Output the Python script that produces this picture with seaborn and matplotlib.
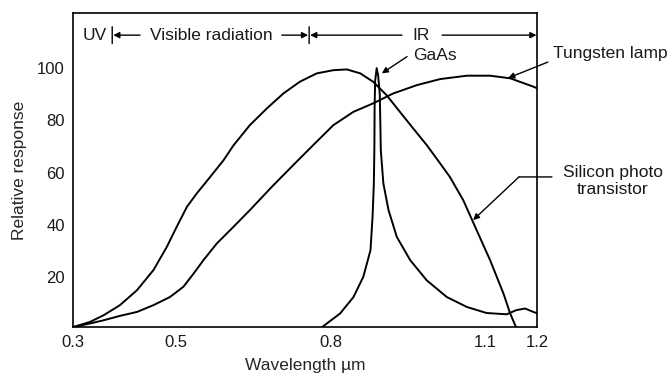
import matplotlib
matplotlib.use('Agg')
import matplotlib.pyplot as plt
import seaborn as sns
import pandas as pd

# Relative response vs wavelength (um)
silicon_wl = [0.300, 0.333, 0.359, 0.391, 0.424, 0.456, 0.482, 0.501, 0.521, 0.540,
              0.566, 0.592, 0.611, 0.643, 0.676, 0.708, 0.740, 0.773, 0.805, 0.831,
              0.857, 0.882, 0.908, 0.934, 0.960, 0.986, 1.012, 1.031, 1.057, 1.083,
              1.109, 1.135, 1.148, 1.159]
silicon_resp = [1.0, 3.0, 5.5, 9.4, 15.1, 22.8, 31.7, 39.3, 47.0, 52.1,
                58.4, 64.8, 70.4, 78.2, 84.6, 90.3, 94.8, 98.0, 99.2, 99.5,
                98.0, 94.8, 89.7, 83.3, 76.9, 70.6, 63.6, 58.4, 49.5, 38.0,
                26.6, 13.8, 6.2, 1.1]

tungsten_wl = [0.300, 0.333, 0.359, 0.391, 0.424, 0.456, 0.488, 0.514, 0.534, 0.553,
               0.579, 0.611, 0.643, 0.685, 0.727, 0.766, 0.805, 0.844, 0.882, 0.921,
               0.967, 1.012, 1.064, 1.109, 1.148, 1.193, 1.200]
tungsten_resp = [1.0, 2.4, 3.6, 5.3, 6.8, 9.4, 12.5, 16.4, 21.5, 26.6,
                 33.0, 39.3, 45.7, 54.5, 62.9, 70.6, 78.2, 83.3, 86.5, 90.3,
                 93.5, 95.8, 97.1, 97.1, 96.1, 92.9, 92.3]

gaas_wl = [0.783, 0.818, 0.844, 0.863, 0.877, 0.881, 0.8835, 0.8845, 0.885, 0.886,
           0.889, 0.892, 0.895, 0.896, 0.897, 0.902, 0.912, 0.928, 0.954, 0.986,
           1.025, 1.064, 1.102, 1.141, 1.160, 1.177, 1.193, 1.200]
gaas_resp = [1.0, 6.2, 12.5, 20.2, 30.4, 43.1, 55.9, 68.6, 85.0, 95.0,
             100.0, 97.0, 90.0, 80.0, 68.6, 55.9, 45.7, 35.5, 26.6, 18.9,
             12.5, 8.7, 6.4, 5.9, 7.5, 8.1, 6.8, 6.3]

xtick_vals = [0.3, 0.4, 0.5, 0.6, 0.7, 0.8, 0.9, 1.0, 1.1, 1.2]
xtick_labels = ['0.3', '', '0.5', '', '', '0.8', '', '', '1.1', '1.2']
ytick_vals = [20, 40, 60, 80, 100]

sns.set_theme(style='white')
plt.rcParams['font.family'] = ['Liberation Sans', 'DejaVu Sans']
plt.rcParams['font.size'] = 12.5
plt.rcParams['text.color'] = '#1a1a1a'

curves = pd.concat([
    pd.DataFrame({'wl': silicon_wl, 'resp': silicon_resp, 'curve': 'silicon'}),
    pd.DataFrame({'wl': tungsten_wl, 'resp': tungsten_resp, 'curve': 'tungsten'}),
    pd.DataFrame({'wl': gaas_wl, 'resp': gaas_resp, 'curve': 'gaas'}),
], ignore_index=True)

fig = plt.figure(figsize=(6.7, 3.76), dpi=100)
ax = fig.add_axes([0.109, 0.130, 0.6925, 0.835])

sns.lineplot(data=curves, x='wl', y='resp', units='curve', estimator=None,
             color='black', lw=1.4, sort=False, ax=ax)

ax.set_xlim(0.3, 1.2)
ax.set_ylim(1, 121)
ax.set_xticks(xtick_vals)
ax.set_xticklabels(xtick_labels)
ax.set_yticks(ytick_vals)
ax.set_yticklabels([str(v) for v in ytick_vals])
ax.tick_params(direction='in', length=8, width=1.1, colors='black',
               labelsize=12, labelcolor='#1a1a1a', pad=6)
for sp in ax.spines.values():
    sp.set_color('black')
    sp.set_linewidth(1.2)

ax.set_xlabel('Wavelength \u00b5m', fontsize=12.5)
ax.set_ylabel('Relative response', fontsize=12.5)
ax.xaxis.set_label_coords(0.5, -0.097)
ax.yaxis.set_label_coords(-0.10, 0.5)


def arrow(x0, y0, x1, y1, style='-|>'):
    ax.annotate('', xy=(x1, y1), xytext=(x0, y0), annotation_clip=False,
                arrowprops=dict(arrowstyle=style, color='black', lw=1.0,
                                shrinkA=0, shrinkB=0, mutation_scale=9))


# spectral bands along the top
band_y = 112.6
ax.text(0.342, band_y, 'UV', ha='center', va='center')
arrow(0.376, 109.4, 0.376, 115.8, style='-')
arrow(0.430, band_y, 0.378, band_y)
ax.text(0.569, band_y, 'Visible radiation', ha='center', va='center')
arrow(0.705, band_y, 0.756, band_y)
arrow(0.758, 109.4, 0.758, 115.8, style='-')
arrow(0.938, band_y, 0.760, band_y)
ax.text(0.975, band_y, 'IR', ha='center', va='center')
arrow(1.016, band_y, 1.199, band_y)

# curve labels
ax.text(1.002, 105.0, 'GaAs', ha='center', va='center')
arrow(0.948, 104.4, 0.899, 98.0)

ax.text(1.231, 105.7, 'Tungsten lamp', ha='left', va='center')
arrow(1.221, 102.3, 1.144, 96.2)

ax.text(1.347, 56.8, 'Silicon photo\ntransistor', ha='center', va='center',
        multialignment='center', linespacing=1.15)
arrow(1.229, 58.4, 1.165, 58.4, style='-')
arrow(1.165, 58.4, 1.076, 41.9)

fig.savefig('out.png', dpi=100)
